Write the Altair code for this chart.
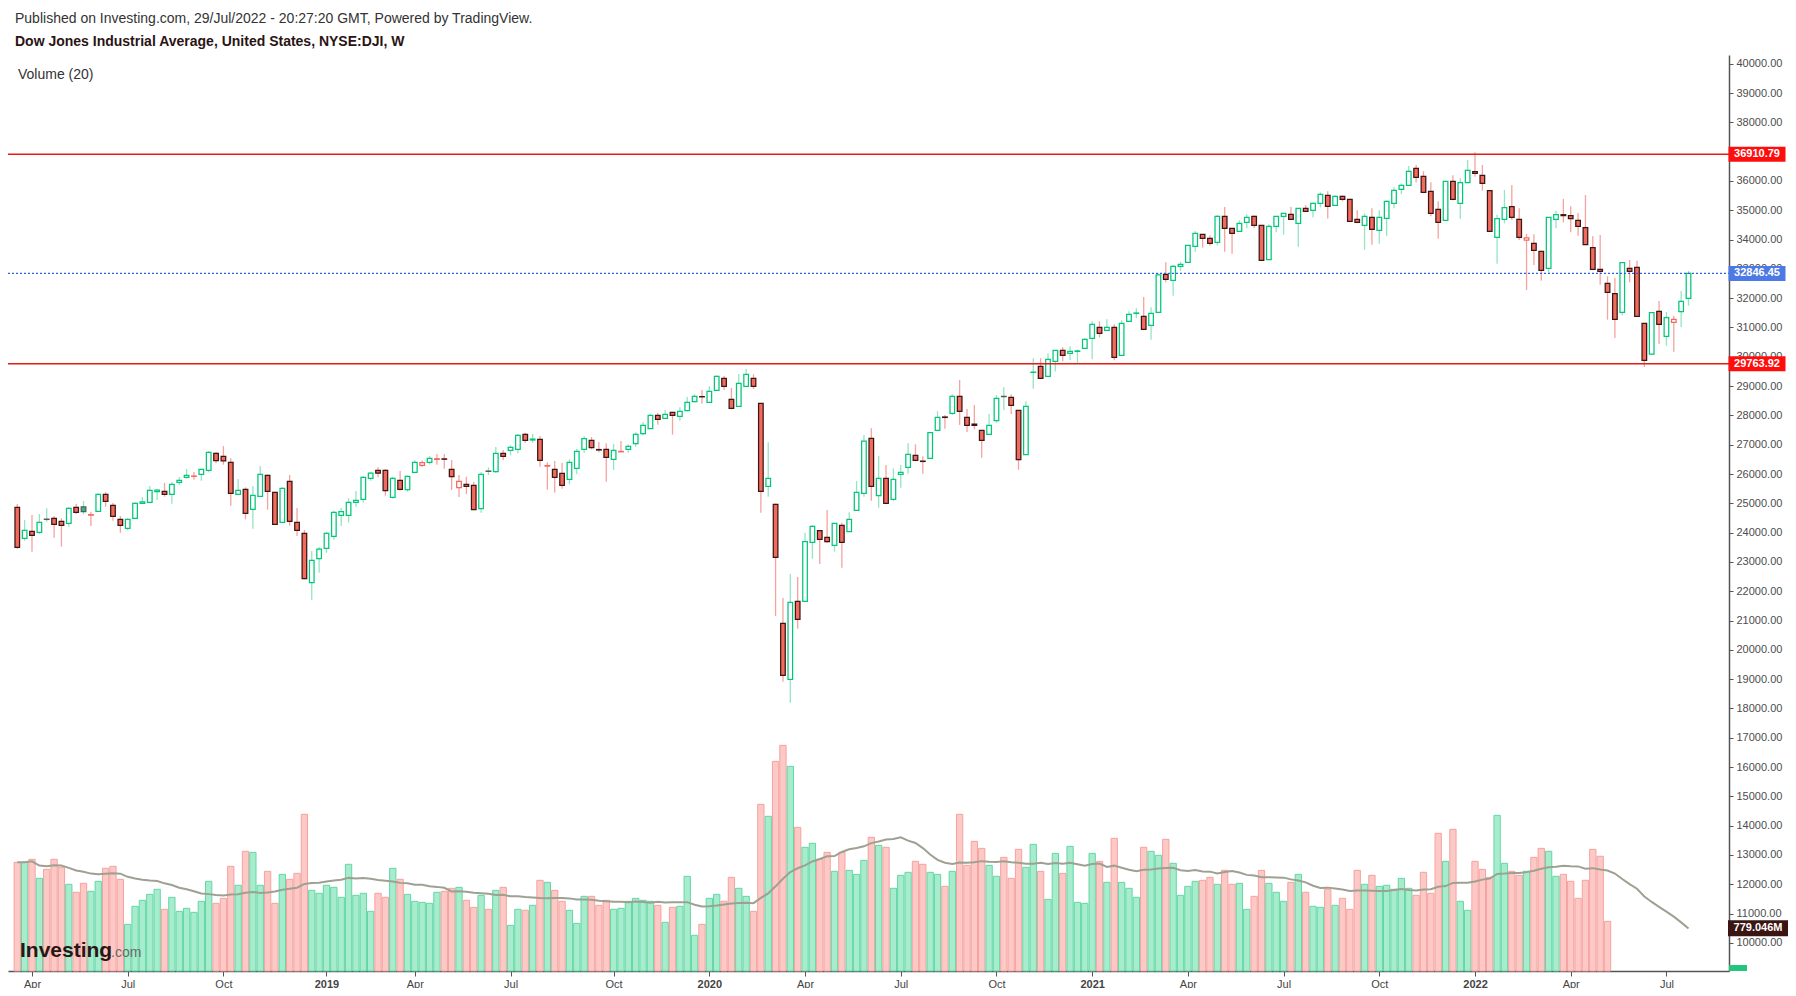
import datetime as dt
import pandas as pd
import altair as alt

# ---------------------------------------------------------------- texts
HEADER_LINE = "Published on Investing.com, 29/Jul/2022 - 20:27:20 GMT, Powered by TradingView."
CHART_TITLE = "Dow Jones Industrial Average, United States, NYSE:DJI, W"
VOLUME_TITLE = "Volume (20)"
LOGO_MAIN = "Investing"
LOGO_SUFFIX = ".com"

# ---------------------------------------------------------------- weekly candles
FIRST_WEEK = dt.date(2018, 3, 19)

OPEN = [
    24863, 23804, 24043, 24009, 24460, 24487, 24385, 24316, 24863, 24874,
    24595, 24726, 25306, 24931, 24453, 24146, 24487, 24999, 25033, 25397,
    25409, 25306, 25716, 25887, 25920, 25989, 26125, 26706, 26603, 26398,
    25306, 25477, 24794, 25238, 25955, 25375, 24351, 25750, 24351, 23975,
    22291, 23110, 23463, 23872, 24589, 24589, 25033, 25135, 25852, 26125,
    26125, 25204, 25784, 25465, 26057, 26296, 26398, 26500, 26515, 26159,
    25533, 25647, 25613, 24817, 26100, 26080, 26705, 26808, 26842, 27354,
    27160, 27183, 26270, 26159, 26023, 25818, 26193, 26842, 27149, 26835,
    26842, 26501, 26757, 26842, 27035, 27377, 27547, 28002, 27900, 28105,
    27968, 28162, 28469, 28640, 28446, 28856, 29265, 28548, 28310, 28992,
    29265, 28412, 25579, 24965, 20903, 18992, 21654, 21654, 23668, 24066,
    23839, 23566, 24248, 24032, 24760, 25340, 27218, 25260, 25852, 25135,
    25989, 26228, 26637, 26440, 26535, 27491, 27945, 28070, 28651, 27934,
    27700, 27491, 27354, 27820, 28650, 28617, 28173, 26660, 29470, 29675,
    29334, 29845, 30221, 30118, 30185, 30289, 30630, 31006, 30903, 31006,
    30050, 31211, 31480, 31381, 31074, 31517, 32814, 32610, 33087, 33224,
    33770, 34180, 34043, 33906, 34794, 34384, 34282, 34589, 34794, 34487,
    33315, 34453, 34794, 34862, 34555, 35067, 34999, 35238, 35511, 35169,
    35477, 35374, 34692, 34487, 34760, 34316, 34726, 35238, 35716, 35852,
    36432, 36159, 35647, 35033, 34657, 35989, 35237, 35943, 36318, 36193,
    35670, 34077, 34691, 35124, 34691, 33986, 33872, 33599, 33019, 34691,
    34850, 34816, 34657, 34407, 33724, 32985, 32507, 32154, 31517, 33019,
    33053, 31142, 30095, 31551, 30698, 31176, 31540, 31995,
]
HIGH = [
    24976, 24430, 24601, 24635, 24828, 24567, 24487, 24885, 24976, 25079,
    24715, 25340, 25386, 25010, 24567, 24487, 25033, 25215, 25591, 25500,
    25693, 25727, 25898, 26171, 26069, 26182, 26785, 26740, 26956, 26535,
    25830, 25545, 25591, 26273, 25977, 25397, 25545, 25966, 24840, 24089,
    23372, 23508, 24020, 24749, 24851, 25169, 25420, 25932, 26080, 26227,
    26171, 25909, 26102, 25943, 26466, 26460, 26614, 26683, 26683, 26478,
    25966, 25909, 25727, 26068, 26227, 26922, 26819, 26978, 27365, 27411,
    27365, 27297, 26398, 26444, 26387, 26500, 26865, 27297, 27263, 27092,
    27047, 27024, 27126, 27013, 27422, 27775, 28059, 28082, 28184, 28110,
    28275, 28628, 28719, 28867, 28992, 29368, 29345, 28935, 29413, 29584,
    29402, 28420, 27081, 24990, 21768, 22587, 22484, 23986, 24260, 24070,
    24771, 24330, 24339, 24692, 25761, 27331, 27559, 26614, 26307, 26193,
    26307, 27047, 27013, 26603, 27433, 28139, 28014, 28719, 29208, 28218,
    28355, 27500, 28048, 28696, 28958, 28719, 28180, 28480, 29948, 29948,
    30118, 30230, 30323, 30357, 30255, 30630, 31211, 31211, 31279, 31108,
    31245, 31552, 31654, 32041, 31688, 32850, 33224, 33133, 33247, 33810,
    34293, 34190, 34146, 34839, 35112, 34390, 34657, 34862, 34830, 34490,
    34520, 34800, 34900, 35112, 35080, 35170, 35270, 35614, 35648, 35510,
    35511, 35380, 34999, 34896, 35067, 34999, 35340, 35784, 35920, 36512,
    36546, 36330, 35954, 35306, 35990, 36193, 36091, 36716, 36978, 36546,
    35680, 34851, 35692, 35863, 35067, 34191, 34180, 33610, 34770, 34976,
    35385, 35135, 34907, 35522, 34122, 34157, 32746, 32689, 33220, 33303,
    33281, 31150, 31510, 31904, 31528, 31403, 32245, 32928,
]
LOW = [
    23450, 23725, 23349, 23952, 24373, 23827, 23520, 24203, 24635, 24624,
    24225, 24703, 24885, 24408, 23998, 24078, 24453, 24976, 24999, 25113,
    25227, 24988, 25613, 25841, 25807, 25773, 26057, 26364, 26319, 24919,
    25272, 24453, 24134, 25215, 24783, 24259, 24328, 24237, 23884, 22405,
    21700, 22632, 23315, 23759, 24225, 24339, 24885, 25022, 25772, 25886,
    25260, 25158, 25431, 25397, 26023, 26240, 26330, 26319, 26182, 25454,
    25215, 25317, 24771, 24680, 25966, 26034, 26478, 26637, 26705, 27069,
    27069, 26250, 25465, 25363, 25499, 25647, 25988, 26728, 26842, 26740,
    25738, 26137, 26751, 26728, 26933, 27320, 27536, 27684, 27889, 27343,
    27820, 28139, 28446, 28401, 28423, 28833, 28867, 28207, 28298, 28981,
    28901, 24680, 25226, 21153, 18912, 18195, 20721, 21640, 23110, 22928,
    23645, 23349, 22803, 24020, 24750, 25226, 25090, 24851, 24990, 25078,
    25533, 26012, 26432, 26012, 26530, 27480, 27547, 28014, 27672, 27433,
    27525, 26557, 27340, 27752, 28184, 28048, 26148, 26650, 28912, 29250,
    29320, 29504, 29845, 29880, 29777, 30280, 29914, 30664, 30890, 29880,
    30040, 31200, 31313, 30930, 30585, 31500, 32541, 32086, 32928, 33220,
    33588, 33725, 33793, 33800, 33588, 33520, 34270, 34384, 34384, 33280,
    33300, 34248, 34168, 34680, 33759, 34930, 34760, 35100, 34724, 35160,
    35306, 34620, 34555, 33656, 33827, 33861, 34134, 35068, 35545, 35840,
    35950, 35580, 34794, 34032, 34650, 35340, 34714, 35930, 36148, 35670,
    34270, 33178, 34555, 34669, 33986, 32279, 33133, 32598, 32871, 34384,
    34589, 34248, 34134, 33820, 32980, 32461, 31267, 30641, 31415, 32541,
    31380, 29651, 30090, 30436, 30379, 30175, 31016, 31745,
]
CLOSE = [
    23497, 24078, 23907, 24351, 24450, 24282, 24248, 24828, 24692, 24715,
    24612, 25306, 25067, 24555, 24248, 24453, 24999, 25045, 25443, 25451,
    25306, 25648, 25784, 25955, 25930, 26160, 26740, 26458, 26447, 25340,
    25443, 24658, 25272, 25989, 25409, 24282, 25511, 24385, 24078, 22428,
    23053, 23440, 23975, 24692, 24714, 25033, 25101, 25886, 26031, 26026,
    25431, 25852, 25477, 25920, 26398, 26390, 26535, 26520, 26505, 25909,
    25750, 25579, 24783, 25989, 26090, 26705, 26603, 26910, 27320, 27149,
    27192, 26466, 26287, 25886, 25613, 26398, 26773, 27206, 26899, 26820,
    26569, 26808, 26770, 26944, 27354, 27661, 28002, 27866, 28036, 28002,
    28139, 28446, 28651, 28634, 28822, 29334, 28992, 28241, 29095, 29402,
    28992, 25409, 25852, 23156, 19128, 21620, 21040, 23691, 24214, 23770,
    23691, 24316, 23668, 24453, 25374, 27126, 25579, 25852, 25000, 25818,
    26057, 26671, 26466, 26428, 27411, 27934, 27930, 28651, 28139, 27661,
    27657, 27149, 27661, 28582, 28640, 28343, 26489, 28310, 29480, 29265,
    29914, 30221, 30050, 30187, 30199, 30596, 31108, 30801, 31006, 29982,
    31142, 31449, 31494, 30938, 31484, 32792, 32644, 33087, 33156, 33804,
    34214, 34043, 33872, 34794, 34384, 34214, 34555, 34760, 34487, 33292,
    34453, 34794, 34896, 34692, 35067, 34965, 35238, 35545, 35135, 35477,
    35374, 34623, 34589, 34794, 34350, 34760, 35306, 35681, 35852, 36330,
    36125, 35613, 34896, 34589, 35989, 35374, 35943, 36364, 36261, 35920,
    34282, 34714, 35089, 34760, 34077, 34060, 33633, 32951, 34760, 34851,
    34818, 34714, 34452, 33827, 32985, 32916, 32200, 31278, 33212, 32916,
    31381, 29879, 31506, 31107, 31335, 31278, 31893, 32846.45,
]
# weekly volume in millions; the last weeks of the chart carry no volume bar
VOLUME_M = [
    1982, 1982, 2037, 1690, 1854, 2037, 1891, 1581, 1435, 1599,
    1453, 1636, 1873, 1909, 1672, 851, 1180, 1289, 1398, 1490,
    1125, 1344, 1088, 1143, 1070, 1271, 1636, 1234, 1325, 1909,
    1563, 2183, 2164, 1563, 1818, 1234, 1763, 1672, 1781, 2858,
    1471, 1417, 1563, 1526, 1344, 1946, 1380, 1417, 1088, 1417,
    1344, 1873, 1672, 1398, 1271, 1252, 1234, 1435, 1453, 1508,
    1526, 1289, 1161, 1380, 1125, 1471, 1526, 833, 1125, 1107,
    1198, 1654, 1617, 1471, 1271, 1107, 869, 1362, 1362, 1198,
    1289, 1125, 1143, 1271, 1325, 1289, 1271, 1198, 888, 1161,
    1180, 1727, 651, 851, 1325, 1398, 1271, 1708, 1508, 1362,
    1088, 3040, 2821, 3824, 4116, 3733, 2620, 2256, 2329, 2037,
    2164, 1818, 2164, 1836, 1763, 2019, 2438, 2292, 2256, 1508,
    1745, 1800, 2000, 1946, 1800, 1763, 1544, 1818, 2858, 1927,
    2365, 2237, 1927, 1727, 2073, 1690, 2219, 1891, 2310, 1818,
    1307, 2146, 1781, 2274, 1252, 1234, 2146, 2000, 1617, 2420,
    1617, 1508, 1344, 2256, 2183, 2110, 2402, 1964, 1380, 1544,
    1636, 1654, 1708, 1581, 1836, 1581, 1599, 1125, 1362, 1836,
    1599, 1435, 1271, 1617, 1763, 1435, 1180, 1161, 1490, 1198,
    1325, 1125, 1836, 1581, 1745, 1544, 1563, 1490, 1690, 1508,
    1380, 1800, 1417, 2511, 2000, 2584, 1271, 1107, 2000, 1854,
    1708, 2839, 1964, 1818, 1745, 1818, 2073, 2237, 2183, 1727,
    1763, 1636, 1325, 1654, 2219, 2092, 906,
]

LEVEL_VALUES = [36910.79, 29763.92]
LEVEL_LABELS = ["36910.79", "29763.92"]
LAST_CLOSE = 32846.45
LAST_CLOSE_LABEL = "32846.45"
VOLUME_MA_LAST = 779.046
VOLUME_MA_LABEL = "779.046M"
PRICE_TICKS = list(range(10000, 40001, 1000))
TIME_TICK_MONTHS = [(2018, 4), (2018, 7), (2018, 10), (2019, 1), (2019, 4), (2019, 7),
                    (2019, 10), (2020, 1), (2020, 4), (2020, 7), (2020, 10), (2021, 1),
                    (2021, 4), (2021, 7), (2021, 10), (2022, 1), (2022, 4), (2022, 7)]
TIME_TICK_LABELS = ["Apr", "Jul", "Oct", "2019", "Apr", "Jul", "Oct", "2020", "Apr", "Jul",
                    "Oct", "2021", "Apr", "Jul", "Oct", "2022", "Apr", "Jul"]

# ---------------------------------------------------------------- styling
W, H = 1721, 916
FONT = "Liberation Sans"
UP_LINE = "#00c77a"
DOWN_FILL = "#f26a5c"
DOWN_EDGE = "#3b1614"
UP_FILL = "#22bf80"
UP_EDGE = "#5a5a5a"
UP_WICK = "#95e4c4"
DOWN_WICK = "#f4a3a0"
TAG_X = 1749

# ---------------------------------------------------------------- table
n = len(CLOSE)
dates = [FIRST_WEEK + dt.timedelta(days=7 * i) for i in range(n)]
rows = []
for i in range(n):
    o, h, l, c = OPEN[i], HIGH[i], LOW[i], CLOSE[i]
    prev = CLOSE[i - 1] if i > 0 else o
    up = c > prev
    hollow = c > o
    kind = ("hollow" if hollow else "filled") + ("_up" if up else "_down")
    rows.append(dict(i=i, date=dates[i].isoformat(), o=o, h=h, l=l, c=c,
                     kind=kind, wick="up" if up else "down",
                     vol=VOLUME_M[i] if i < len(VOLUME_M) else 0))
df = pd.DataFrame(rows)

tick_idx = []
for (yy, mm) in TIME_TICK_MONTHS:
    tick_idx.append(next(k for k, d in enumerate(dates) if d.year == yy and d.month == mm))
year_idx = [t for t, lab in zip(tick_idx, TIME_TICK_LABELS) if lab.isdigit()]
lab_js = "[" + ",".join("'%s'" % s for s in TIME_TICK_LABELS) + "]"
idx_js = "[" + ",".join(str(v) for v in tick_idx) + "]"
yidx_js = "[" + ",".join(str(v) for v in year_idx) + "]"

x_scale = alt.Scale(domain=[-0.58, 231.82], nice=False, zero=False)
x_axis = alt.Axis(values=tick_idx, labelExpr=f"{lab_js}[indexof({idx_js}, datum.value)]",
                  labelFontWeight={"condition": {"test": f"indexof({yidx_js}, datum.value) >= 0",
                                                 "value": "bold"}, "value": "normal"},
                  title=None, grid=False, domainColor="#555555", domainWidth=1.5,
                  tickColor="#555555", tickSize=5, labelColor="#444444", labelFont=FONT,
                  labelFontSize=11, labelPadding=2, labelFlush=False, labelOverlap=False)
X = alt.X("i:Q", scale=x_scale, axis=x_axis)

price_scale = alt.Scale(domain=[9038, 40300], nice=False, zero=False)
y_axis = alt.Axis(orient="right", values=PRICE_TICKS, format=".2f", title=None, grid=False,
                  domainColor="#555555", domainWidth=1.5, tickColor="#555555", tickSize=4,
                  labelColor="#4d4d4d", labelFont=FONT, labelFontSize=11, labelPadding=3,
                  labelFlush=False, labelOverlap=False)
vol_scale = alt.Scale(domain=[0, 16708], nice=False, zero=True)

base = alt.Chart(df)

# ---------------------------------------------------------------- volume pane
vol_bars = base.transform_filter("datum.vol > 0").mark_bar(width=6.3, strokeWidth=1).encode(
    x=X,
    y=alt.Y("vol:Q", scale=vol_scale, axis=None),
    fill=alt.condition("datum.c >= datum.o", alt.value("#a8ecce"), alt.value("#fdc9c6")),
    stroke=alt.condition("datum.c >= datum.o", alt.value("#62d7a4"), alt.value("#f5a29e")),
)
vol_ma = base.transform_window(
    ma="mean(vol)", frame=[-19, 0], sort=[{"field": "i"}]
).mark_line(color="#9ea191", strokeWidth=2).encode(
    x=X, y=alt.Y("ma:Q", scale=vol_scale, axis=None)
)
vol_tag_df = pd.DataFrame({"v": [VOLUME_MA_LAST], "t": [VOLUME_MA_LABEL]})
vol_box = alt.Chart(vol_tag_df).mark_point(
    shape="M-1,-0.267L1,-0.267L1,0.267L-1,0.267Z", size=3600, filled=True,
    fill="#3a1512", opacity=1, strokeWidth=0
).encode(x=alt.value(TAG_X + 1), y=alt.Y("v:Q", scale=vol_scale, axis=None))
vol_txt = alt.Chart(vol_tag_df).mark_text(
    color="white", font=FONT, fontSize=11, fontWeight="bold", align="center", baseline="middle"
).encode(x=alt.value(TAG_X + 1), y=alt.Y("v:Q", scale=vol_scale, axis=None), text="t:N")
vol_layer = alt.layer(vol_bars, vol_ma, vol_box, vol_txt)

# ---------------------------------------------------------------- price pane
Yp = lambda f: alt.Y(f, scale=price_scale, axis=y_axis)

wicks = base.mark_rule(strokeWidth=1.3).encode(
    x=X, y=Yp("l:Q"), y2="h:Q",
    color=alt.Color("wick:N", scale=alt.Scale(domain=["up", "down"], range=[UP_WICK, DOWN_WICK]),
                    legend=None),
)
KINDS = ["hollow_up", "hollow_down", "filled_up", "filled_down"]
bodies = base.mark_bar(width=4.6, strokeWidth=1.25).encode(
    x=X, y=Yp("o:Q"), y2="c:Q",
    fill=alt.Fill("kind:N", scale=alt.Scale(domain=KINDS, range=["#ffffff", "#ffffff", UP_FILL, DOWN_FILL]),
                  legend=None),
    stroke=alt.Stroke("kind:N", scale=alt.Scale(domain=KINDS, range=[UP_LINE, DOWN_FILL, UP_EDGE, DOWN_EDGE]),
                      legend=None),
)

lvl_df = pd.DataFrame({"p": LEVEL_VALUES, "t": LEVEL_LABELS})
lvl_rules = alt.Chart(lvl_df).mark_rule(color="#e41b17", strokeWidth=1.5).encode(
    x=alt.value(0), x2=alt.value(W), y=Yp("p:Q"))
last_df = pd.DataFrame({"p": [LAST_CLOSE], "t": [LAST_CLOSE_LABEL]})
last_rule = alt.Chart(last_df).mark_rule(color="#2f5fe0", strokeWidth=1.3, strokeDash=[2, 2]).encode(
    x=alt.value(0), x2=alt.value(W), y=Yp("p:Q"))

BOX = "M-1,-0.263L1,-0.263L1,0.263L-1,0.263Z"
lvl_box = alt.Chart(lvl_df).mark_point(shape=BOX, size=3249, filled=True, fill="#ff0d0d",
                                       opacity=1, strokeWidth=0).encode(
    x=alt.value(TAG_X), y=Yp("p:Q"))
lvl_txt = alt.Chart(lvl_df).mark_text(color="white", font=FONT, fontSize=11, fontWeight="bold",
                                      align="center", baseline="middle").encode(
    x=alt.value(TAG_X), y=Yp("p:Q"), text="t:N")
last_box = alt.Chart(last_df).mark_point(shape=BOX, size=3249, filled=True, fill="#4d79e6",
                                         opacity=1, strokeWidth=0).encode(
    x=alt.value(TAG_X), y=Yp("p:Q"))
last_txt = alt.Chart(last_df).mark_text(color="white", font=FONT, fontSize=11, fontWeight="bold",
                                        align="center", baseline="middle").encode(
    x=alt.value(TAG_X), y=Yp("p:Q"), text="t:N")
zero_tag = alt.Chart(last_df).mark_point(shape="M-1,-0.33L1,-0.33L1,0.33L-1,0.33Z", size=324,
                                         filled=True, fill="#22c47e", opacity=1, strokeWidth=0).encode(
    x=alt.value(1730), y=alt.value(913))


def label(text, x, y, size, weight="normal", color="#333333", baseline="middle"):
    return alt.Chart(pd.DataFrame({"t": [text]})).mark_text(
        font=FONT, fontSize=size, fontWeight=weight, color=color, align="left", baseline=baseline
    ).encode(x=alt.value(x), y=alt.value(y), text="t:N")


texts = [
    label(HEADER_LINE, 7, -36, 14, color="#333333"),
    label(CHART_TITLE, 7, -13, 14, weight="bold", color="#2a1414"),
    label(VOLUME_TITLE, 10, 20, 14, color="#333333"),
    label(LOGO_MAIN, 12, 902, 21, weight="bold", color="#2b1616", baseline="alphabetic"),
    label(LOGO_SUFFIX, 103, 902, 14, color="#6a6a6a", baseline="alphabetic"),
]

price_layer = alt.layer(wicks, bodies, lvl_rules, last_rule, lvl_box, lvl_txt, last_box, last_txt,
                        zero_tag, *texts)

chart = alt.layer(vol_layer, price_layer).resolve_scale(y="independent").properties(
    width=W, height=H,
    autosize=alt.AutoSizeParams(type="none"),
    padding={"left": 0, "top": 47, "right": 59, "bottom": 17},
    background="white",
).configure_view(strokeWidth=0)

chart.save("out.html", embed_options={"renderer": "svg", "actions": False})
